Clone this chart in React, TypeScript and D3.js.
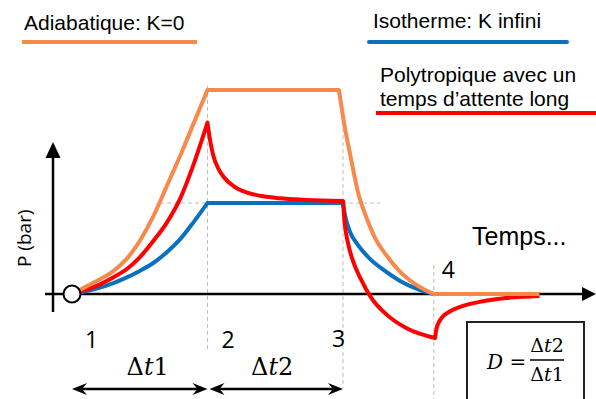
import React from "react";
import * as d3 from "d3";

// Phase instants (time units: 1 = Δt1) and labels
const phaseTimes = [0, 1, 2, 2.67];
const phaseLabels = ["1", "2", "3", "4"];

// Compression phase (1 -> 2), sampled times
const riseT = [0, 0.1, 0.2, 0.3, 0.4, 0.5, 0.6, 0.7, 0.8, 0.9, 1];
const adiabRiseP = [0, 0.035, 0.07, 0.11, 0.17, 0.26, 0.38, 0.53, 0.68, 0.84, 1.0];
const polyRiseP = [0, 0.02, 0.045, 0.08, 0.12, 0.18, 0.26, 0.35, 0.47, 0.64, 0.84];
const isoRiseP = [0, 0.013, 0.03, 0.052, 0.08, 0.113, 0.152, 0.205, 0.27, 0.355, 0.446];

// Waiting phase (2 -> 3)
const adiabHold: [number, number][] = [[1, 1], [1.97, 1]];
const polyHold: [number, number][] = [
  [1, 0.838], [1.02, 0.75], [1.044, 0.675], [1.08, 0.615], [1.118, 0.575], [1.2, 0.525],
  [1.292, 0.497], [1.4, 0.48], [1.535, 0.469], [1.7, 0.462], [1.85, 0.458], [2, 0.456],
];
const isoHold: [number, number][] = [[1, 0.446], [2, 0.446]];

// Expansion phase (3 -> 4)
const adiabFall: [number, number][] = [[1.97, 1], [2.01, 0.83], [2.06, 0.66], [2.11, 0.5], [2.17, 0.38], [2.24, 0.27], [2.32, 0.19], [2.42, 0.11], [2.53, 0.05], [2.67, 0]];
const polyFall: [number, number][] = [[2, 0.456], [2.012, 0.35], [2.035, 0.255], [2.075, 0.16], [2.13, 0.075], [2.21, -0.02], [2.32, -0.1], [2.47, -0.168], [2.679, -0.216]];
const isoFall: [number, number][] = [[2, 0.446], [2.015, 0.387], [2.052, 0.304], [2.111, 0.24], [2.199, 0.172], [2.31, 0.113], [2.421, 0.064], [2.546, 0.025], [2.67, 0]];

// After 4
const adiabTail: [number, number][] = [[2.67, 0], [3.45, 0]];
const polyTail: [number, number][] = [[2.679, -0.216], [2.69, -0.17], [2.71, -0.135], [2.74, -0.108], [2.79, -0.085], [2.87, -0.062], [3.0, -0.04], [3.2, -0.02], [3.45, -0.01]];
const isoTail: [number, number][] = [[2.67, 0], [3.45, 0]];

const ORANGE = "#F7894A";
const BLUE = "#0A70C0";
const RED = "#FF0000";
const GREY = "#BDBDBD";

const W = 596;
const H = 399;

const tSc = d3.scaleLinear().domain([0, 1]).range([72, 207.5]);
const pSc = d3.scaleLinear().domain([0, 1]).range([294, 90]);

const lineGen = d3
  .line<[number, number]>()
  .x((d) => tSc(d[0]))
  .y((d) => pSc(d[1]))
  .curve(d3.curveMonotoneX);

function joinSegs(segs: [number, number][][]): string {
  return segs
    .map((s, i) => {
      const p = lineGen(s) || "";
      return i === 0 ? p : p.replace(/^M/, "L");
    })
    .join("");
}

const zip = (ts: number[], ps: number[]): [number, number][] => ts.map((t, i) => [t, ps[i]]);

function stealth(tipX: number, tipY: number, dir: number) {
  const L = 15, hw = 6, notch = 10;
  const bx = tipX - dir * L;
  const nx = tipX - dir * notch;
  return `M${tipX},${tipY} L${bx},${tipY - hw} L${nx},${tipY} L${bx},${tipY + hw} Z`;
}

export default function App() {
  const adiab = joinSegs([zip(riseT, adiabRiseP), adiabHold, adiabFall, adiabTail]);
  const poly = joinSegs([zip(riseT, polyRiseP), polyHold, polyFall, polyTail]);
  const iso = joinSegs([zip(riseT, isoRiseP), isoHold, isoFall, isoTail]);

  const x0 = tSc(0);
  const y0 = pSc(0);
  const yIso = pSc(isoHold[0][1]);
  const x1 = tSc(phaseTimes[1]);
  const x2 = tSc(phaseTimes[2]);
  const x3 = tSc(phaseTimes[3]);
  const arrowY = 389;

  const sans = "'Liberation Sans', Arial, sans-serif";
  const open = "'Open Sans', sans-serif";
  const serif = "'DejaVu Serif', serif";

  return (
    <svg
      width={W}
      height={H}
      viewBox={`0 0 ${W} ${H}`}
      style={{ position: "absolute", left: 0, top: 0, background: "#fff" }}
    >
      <rect x={0} y={0} width={W} height={H} fill="#fff" />

      {/* dashed guides */}
      <g stroke={GREY} strokeWidth={1} strokeDasharray="4 3" fill="none">
        <line x1={x1} x2={x1} y1={pSc(1.02)} y2={349} />
        <line x1={x2} x2={x2} y1={121} y2={388} />
        <line x1={x3} x2={x3} y1={265} y2={399} />
        <line x1={160} x2={380} y1={yIso} y2={yIso} />
      </g>

      {/* axes */}
      <line x1={45} x2={584} y1={y0} y2={y0} stroke="#000" strokeWidth={2.5} />
      <path d={`M596,${y0} L582,${y0 - 7} L582,${y0 + 7} Z`} fill="#000" />
      <line x1={53} x2={53} y1={312} y2={156} stroke="#000" strokeWidth={2.5} />
      <path d={`M53,142 L45.5,158 L60.5,158 Z`} fill="#000" />

      {/* curves */}
      <path d={iso} fill="none" stroke={BLUE} strokeWidth={4} strokeLinejoin="round" />
      <path d={poly} fill="none" stroke={RED} strokeWidth={4} strokeLinejoin="round" />
      <path d={adiab} fill="none" stroke={ORANGE} strokeWidth={4} strokeLinejoin="round" />

      {/* starting point */}
      <circle cx={x0} cy={y0} r={8.5} fill="#fff" stroke="#000" strokeWidth={2} />

      {/* phase labels */}
      <g fontFamily={open} fontSize={23} fill="#000">
        <text x={x0 + 13} y={348}>{phaseLabels[0]}</text>
        <text x={x1 + 14} y={348}>{phaseLabels[1]}</text>
        <text x={x2 - 11} y={347}>{phaseLabels[2]}</text>
        <text x={x3 + 8} y={278}>{phaseLabels[3]}</text>
      </g>

      {/* duration arrows */}
      <g stroke="#000" strokeWidth={2.5}>
        <line x1={x0 + 6} x2={x1 - 6} y1={arrowY} y2={arrowY} />
        <line x1={x1 + 8} x2={x2 - 6} y1={arrowY} y2={arrowY} />
      </g>
      <g fill="#000">
        <path d={stealth(x0, arrowY, -1)} />
        <path d={stealth(x1, arrowY, 1)} />
        <path d={stealth(x1 + 2, arrowY, -1)} />
        <path d={stealth(x2, arrowY, 1)} />
      </g>
      <g fontFamily={serif} fontSize={24} fill="#000" textAnchor="middle">
        <text x={(x0 + x1) / 2 + 8} y={375}>
          Δ<tspan fontStyle="italic">t</tspan>1
        </text>
        <text x={(x1 + x2) / 2 - 3} y={375}>
          Δ<tspan fontStyle="italic">t</tspan>2
        </text>
      </g>

      {/* formula box */}
      <rect x={467} y={322} width={117} height={90} fill="#fff" stroke="#222" strokeWidth={2} />
      <g fontFamily={serif} fill="#000">
        <text x={487} y={369} fontSize={20} fontStyle="italic">D</text>
        <text x={518} y={369} fontSize={20} textAnchor="middle">=</text>
        <text x={547} y={352} fontSize={19} textAnchor="middle">
          Δ<tspan fontStyle="italic">t</tspan>2
        </text>
        <line x1={530} x2={564} y1={360} y2={360} stroke="#000" strokeWidth={1.5} />
        <text x={547} y={381} fontSize={19} textAnchor="middle">
          Δ<tspan fontStyle="italic">t</tspan>1
        </text>
      </g>

      {/* axis titles */}
      <text x={472} y={245} fontFamily={sans} fontSize={25} fill="#000">Temps...</text>
      <text
        transform="translate(31,267) rotate(-90)"
        fontFamily={open}
        fontSize={19}
        fill="#000"
      >
        P (bar)
      </text>

      {/* legend */}
      <g fontFamily={sans} fontSize={21} fill="#000">
        <text x={24} y={30}>Adiabatique: K=0</text>
        <text x={373} y={28}>Isotherme: K infini</text>
        <text x={380} y={82}>Polytropique avec un</text>
        <text x={380} y={106}>temps d’attente long</text>
      </g>
      <line x1={22} x2={197} y1={42} y2={42} stroke={ORANGE} strokeWidth={4} />
      <line x1={369} x2={567} y1={42} y2={42} stroke={BLUE} strokeWidth={4} strokeLinecap="round" />
      <line x1={376} x2={596} y1={113} y2={113} stroke={RED} strokeWidth={4} />
    </svg>
  );
}
